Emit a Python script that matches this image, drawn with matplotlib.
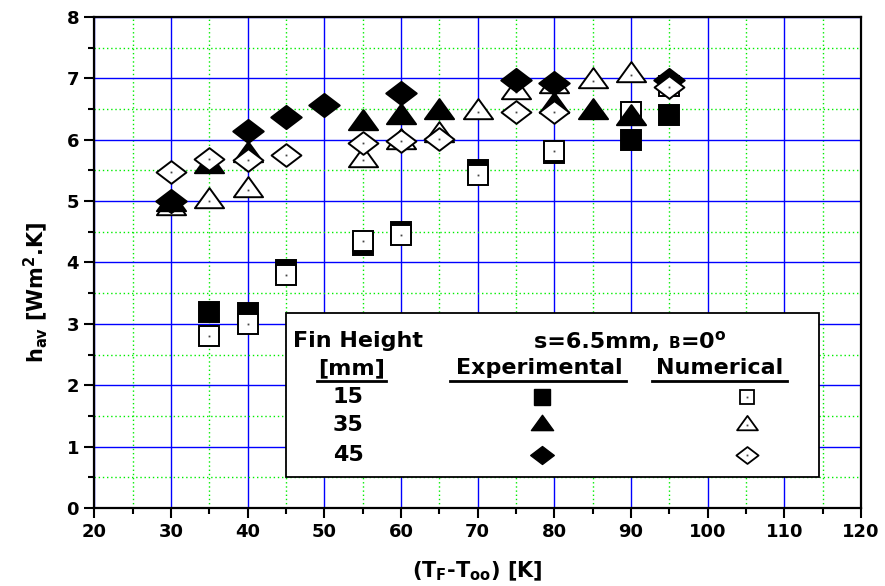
import matplotlib
matplotlib.use('Agg')
import matplotlib.pyplot as plt
from matplotlib.path import Path
from matplotlib.patches import Rectangle
from matplotlib.ticker import MultipleLocator
from matplotlib.offsetbox import TextArea, HPacker, AnnotationBbox

plt.rcParams['font.family'] = ['DejaVu Sans']
plt.rcParams['font.weight'] = 'bold'
plt.rcParams['mathtext.fontset'] = 'custom'
plt.rcParams['mathtext.rm'] = 'DejaVu Sans:bold'
plt.rcParams['mathtext.it'] = 'DejaVu Sans:bold'
plt.rcParams['mathtext.bf'] = 'DejaVu Sans:bold'

# fin height 15 mm
x15_exp = [35, 40, 45, 55, 60, 70, 80, 90, 95]
h15_exp = [3.2, 3.17, 3.87, 4.28, 4.5, 5.5, 5.78, 6.0, 6.4]
x15_num = [35, 40, 45, 55, 60, 70, 80, 90, 95]
h15_num = [2.8, 3.0, 3.8, 4.35, 4.45, 5.42, 5.82, 6.45, 6.88]

# fin height 35 mm
x35_exp = [30, 35, 40, 55, 60, 65, 80, 85, 90]
h35_exp = [4.95, 5.57, 5.75, 6.27, 6.37, 6.46, 6.55, 6.46, 6.36]
x35_num = [30, 35, 40, 55, 60, 65, 70, 75, 80, 85, 90]
h35_num = [4.88, 5.0, 5.18, 5.67, 5.97, 6.07, 6.45, 6.77, 6.87, 6.96, 7.05]

# fin height 45 mm
x45_exp = [30, 40, 45, 50, 60, 75, 80, 95]
h45_exp = [5.0, 6.15, 6.37, 6.56, 6.76, 6.97, 6.92, 6.97]
x45_num = [30, 35, 40, 45, 55, 60, 65, 75, 80, 95]
h45_num = [5.48, 5.68, 5.67, 5.75, 5.94, 5.98, 6.02, 6.45, 6.45, 6.86]

fin_heights = ['15', '35', '45']

FONT_SIZE  = 16
LABEL_SIZE = 15
TICK_SIZE  = 13

# wide triangle (centroid at origin) and wide diamond
TRIANGLE = Path([(0, 0.46), (-0.5, -0.23), (0.5, -0.23), (0, 0.46)], closed=True)
DIAMOND  = Path([(0.5, 0), (0, 0.38), (-0.5, 0), (0, -0.38), (0.5, 0)], closed=True)

fig = plt.figure(figsize=(8.85, 5.86), dpi=100)
ax = fig.add_axes([0.1066, 0.1331, 0.8663, 0.8379])


def draw(x, y, marker, ms, filled, z):
    face = 'black' if filled else 'white'
    ax.plot(x, y, ls='none', marker=marker, ms=ms, mfc=face, mec='black', mew=1.4, zorder=z)
    if not filled:
        ax.plot(x, y, ls='none', marker='s', ms=1.3, color='#444444', mew=0, zorder=z)


draw(x15_exp, h15_exp, 's', 14.5, True, 3.0)
draw(x15_num, h15_num, 's', 14.0, False, 3.1)
draw(x35_num, h35_num, TRIANGLE, 21, False, 3.2)
draw(x35_exp, h35_exp, TRIANGLE, 21, True, 3.3)
draw(x45_exp, h45_exp, DIAMOND, 22, True, 3.4)
draw(x45_num, h45_num, DIAMOND, 21.5, False, 3.5)

ax.set_xlim(20, 120)
ax.set_ylim(0, 8)
ax.xaxis.set_major_locator(MultipleLocator(10))
ax.xaxis.set_minor_locator(MultipleLocator(5))
ax.yaxis.set_major_locator(MultipleLocator(1))
ax.yaxis.set_minor_locator(MultipleLocator(0.5))

ax.set_axisbelow(True)
ax.grid(which='major', color='#0000ff', lw=1.0, ls='-')
ax.grid(which='minor', color='#00ee00', lw=1.0, ls=(0, (1, 2)))

ax.tick_params(which='major', direction='out', length=7, width=1.5, labelsize=TICK_SIZE, pad=4)
ax.tick_params(which='minor', direction='out', length=4, width=1.5)
for spine in ax.spines.values():
    spine.set_linewidth(1.6)

ax.set_xlabel(r'(T$_F$-T$_{oo}$) [K]', fontsize=LABEL_SIZE, fontweight='bold')
ax.set_ylabel(r'h$_{av}$ [Wm$^2$.K]', fontsize=LABEL_SIZE, fontweight='bold')
ax.xaxis.set_label_coords(0.5, -0.105)
ax.yaxis.set_label_coords(-0.077, 0.44)
ax.yaxis.label.set_verticalalignment('center')

# legend box drawn by hand, like the original
ax.add_patch(Rectangle((0.25, 0.063), 0.695, 0.334, transform=ax.transAxes,
                       fc='white', ec='black', lw=1.3, zorder=5))

ax.text(45.9, 2.72, 'Fin Height', fontsize=FONT_SIZE, ha='left', va='center', zorder=6)
ax.text(53.5, 2.28, '[mm]', fontsize=FONT_SIZE, ha='center', va='center', zorder=6)
ax.text(78.1, 2.28, 'Experimental', fontsize=FONT_SIZE, ha='center', va='center', zorder=6)
ax.text(101.6, 2.28, 'Numerical', fontsize=FONT_SIZE, ha='center', va='center', zorder=6)
for x0, x1 in [(49.0, 58.0), (66.4, 89.4), (92.7, 110.3)]:
    ax.plot([x0, x1], [2.07, 2.07], color='black', lw=2, zorder=6)

title = HPacker(children=[TextArea('s=6.5mm, ', textprops=dict(fontsize=FONT_SIZE, fontweight='bold')),
                          TextArea('B', textprops=dict(fontsize=11, fontweight='bold')),
                          TextArea(r'=0$^{o}$', textprops=dict(fontsize=FONT_SIZE, fontweight='bold'))],
                align='baseline', pad=0, sep=0)
ax.add_artist(AnnotationBbox(title, (77.4, 2.72), xycoords='data', box_alignment=(0, 0.5),
                             frameon=False, pad=0, zorder=6))

rows_y = [1.81, 1.35, 0.86]
exp_marks = [('s', 11), (TRIANGLE, 16), (DIAMOND, 17)]
num_marks = [('s', 10), (TRIANGLE, 15), (DIAMOND, 16)]
for label, yy, (me, se), (mn, sn) in zip(fin_heights, rows_y, exp_marks, num_marks):
    ax.text(53.1, yy, label, fontsize=FONT_SIZE, ha='center', va='center', zorder=6)
    ax.plot([78.4], [yy], ls='none', marker=me, ms=se, color='black', zorder=6)
    ax.plot([105.1], [yy], ls='none', marker=mn, ms=sn, mfc='white', mec='black', mew=1.3, zorder=6)
    ax.plot([105.1], [yy], ls='none', marker='s', ms=1.3, color='#444444', mew=0, zorder=6.1)

fig.savefig('out.png', dpi=100)
